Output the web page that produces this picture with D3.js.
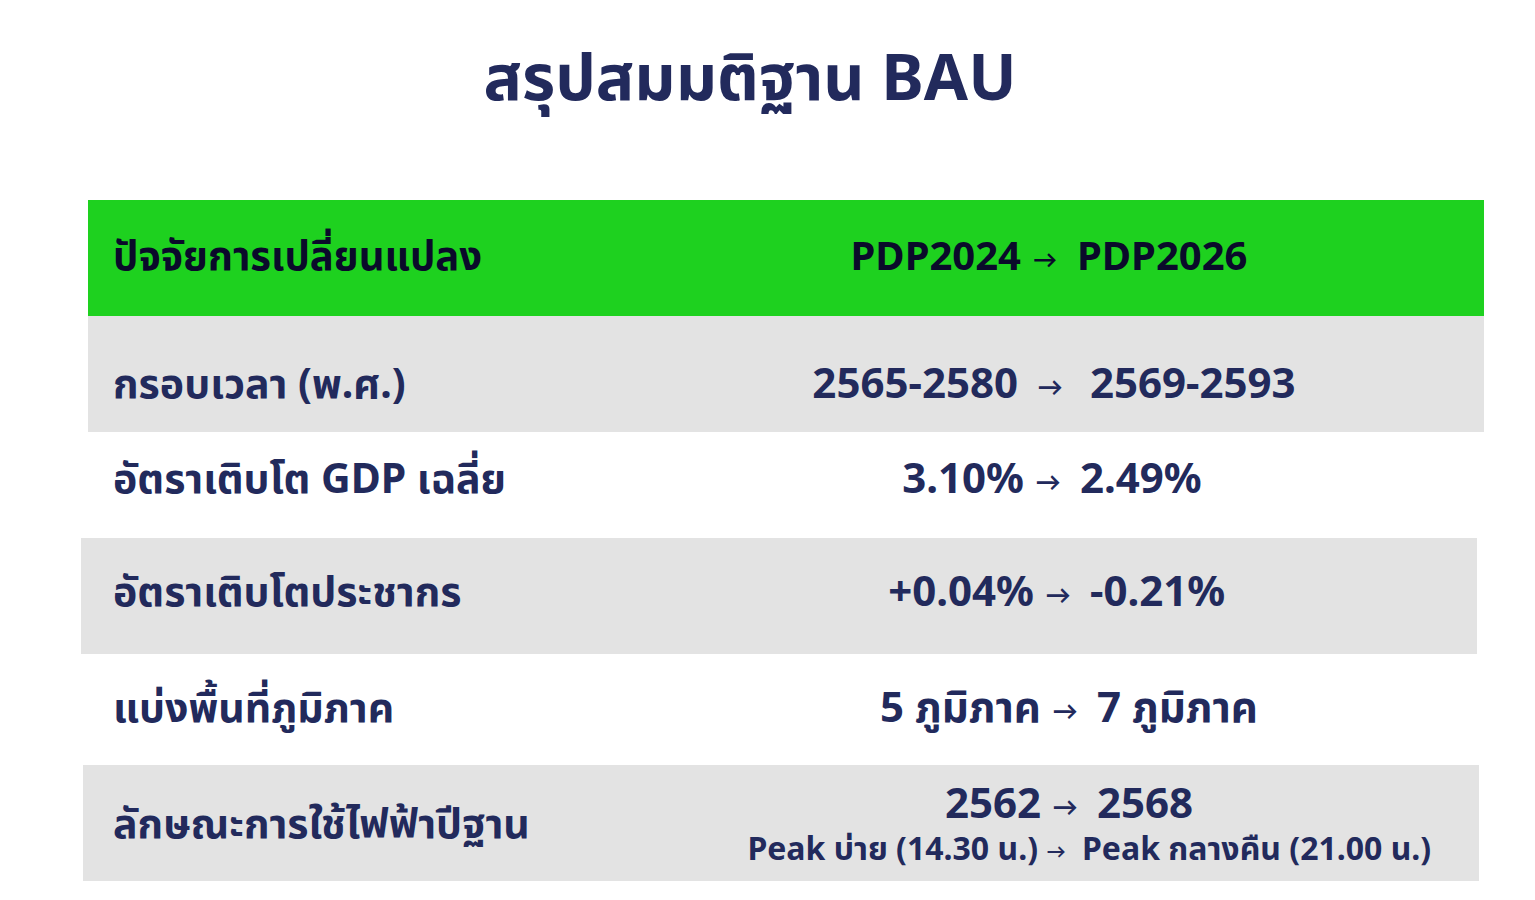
<!DOCTYPE html>
<html><head><meta charset="utf-8">
<script src="https://cdn.jsdelivr.net/npm/d3@7"></script>
<style>body{margin:0;background:#fff}svg{display:block}text{font-family:"Noto Sans","Noto Sans Thai",Lato,sans-serif;font-weight:700}</style>
</head><body><svg id="c" width="1535" height="900"></svg>
<script>
const title = "สรุปสมมติฐาน BAU";
const headerLeft = "ปัจจัยการเปลี่ยนแปลง";
const headerFrom = "PDP2024", headerTo = "PDP2026";
const factors = ["กรอบเวลา (พ.ศ.)","อัตราเติบโต GDP เฉลี่ย","อัตราเติบโตประชากร","แบ่งพื้นที่ภูมิภาค","ลักษณะการใช้ไฟฟ้าปีฐาน"];
const fromVals = ["2565-2580","3.10%","+0.04%","5 ภูมิภาค","2562"];
const toVals = ["2569-2593","2.49%","-0.21%","7 ภูมิภาค","2568"];
const subFrom = "Peak บ่าย (14.30 น.)", subTo = "Peak กลางคืน (21.00 น.)";

const svg = d3.select("#c");
const navy = "#222a5c";
svg.append("text").attr("x",750).attr("y",100).attr("text-anchor","middle").attr("font-size",64).attr("fill",navy).text(title);

const rows = [
 {y0:316,y1:432,x0:88,x1:1484,fill:"#e3e3e3",ax:1050,ty:398},
 {y0:432,y1:538,x0:88,x1:1484,fill:"#fff",ax:1048,ty:493},
 {y0:538,y1:654,x0:81,x1:1477,fill:"#e3e3e3",ax:1058,ty:606},
 {y0:654,y1:765,x0:81,x1:1477,fill:"#fff",ax:1065,ty:722},
 {y0:765,y1:881,x0:83,x1:1479,fill:"#e3e3e3",ax:1065,ty:818}
];
svg.append("rect").attr("x",88).attr("y",200).attr("width",1396).attr("height",116).attr("fill","#1ed11f");
svg.append("text").attr("x",113).attr("y",270).attr("font-size",40).attr("fill","#0a0a2a").text(headerLeft);
function arrowCell(ax,ty,a,b,fs,col,g){
  svg.append("text").attr("x",ax-g).attr("y",ty).attr("text-anchor","end").attr("font-size",fs).attr("fill",col).text(a);
  svg.append("text").attr("x",ax).attr("y",ty-2).attr("text-anchor","middle").attr("font-size",fs*0.6).attr("fill",col).text("→");
  svg.append("text").attr("x",ax+g+8).attr("y",ty).attr("text-anchor","start").attr("font-size",fs).attr("fill",col).text(b);
}
arrowCell(1045,270,headerFrom,headerTo,40,"#0a0a2a",24);
factors.forEach((f,i)=>{
  const r=rows[i];
  svg.append("rect").attr("x",r.x0).attr("y",r.y0).attr("width",r.x1-r.x0).attr("height",r.y1-r.y0).attr("fill",r.fill);
  svg.append("text").attr("x",113).attr("y",i==4?r.ty+20:r.ty).attr("font-size",41).attr("fill",navy).text(f);
  arrowCell(r.ax,r.ty,fromVals[i],toVals[i],42,navy,i==0?32:24);
});
arrowCell(1056,860,subFrom,subTo,32,navy,18);
</script></body></html>
